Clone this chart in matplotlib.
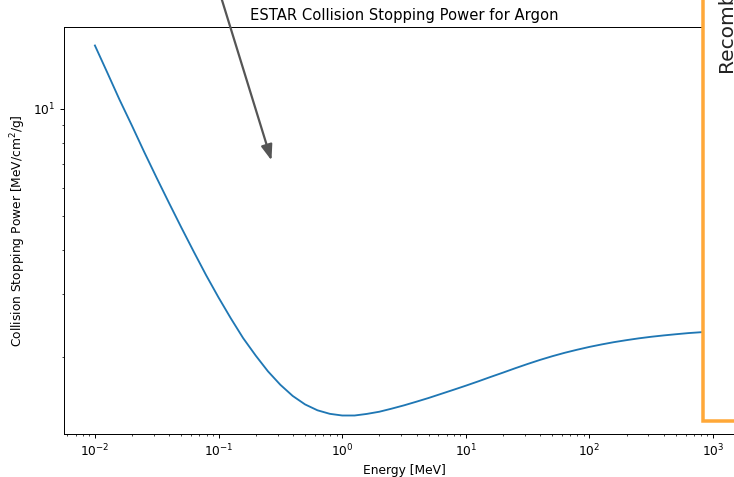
import matplotlib
matplotlib.use("Agg")
import matplotlib.pyplot as plt
from matplotlib.patches import Rectangle

# ESTAR collision stopping power of argon (MeV cm^2/g)
energy_mev = [0.01, 0.0126, 0.0158, 0.02, 0.0251, 0.0316, 0.0398, 0.0501, 0.0631, 0.0794,
              0.1, 0.126, 0.158, 0.2, 0.251, 0.316, 0.398, 0.501, 0.631, 0.794,
              1.0, 1.26, 1.58, 2.0, 2.51, 3.16, 3.98, 5.01, 6.31, 7.94,
              10.0, 12.6, 15.8, 20.0, 25.1, 31.6, 39.8, 50.1, 63.1, 79.4,
              100.0, 126.0, 158.0, 200.0, 251.0, 316.0, 398.0, 501.0, 631.0, 794.0,
              1000.0]
stopping_power = [15.10, 12.66, 10.63, 8.951, 7.551, 6.392, 5.429, 4.626, 3.956, 3.397,
                  2.941, 2.565, 2.260, 2.016, 1.821, 1.669, 1.552, 1.469, 1.414, 1.382,
                  1.367, 1.367, 1.381, 1.401, 1.429, 1.460, 1.495, 1.532, 1.573, 1.615,
                  1.659, 1.706, 1.755, 1.806, 1.858, 1.910, 1.961, 2.009, 2.054, 2.095,
                  2.134, 2.169, 2.201, 2.230, 2.256, 2.279, 2.299, 2.317, 2.334, 2.347,
                  2.359]

DPI = 88.5
W, H = 735, 477
fig = plt.figure(figsize=(W / DPI, H / DPI), dpi=DPI)
ax = fig.add_axes([64 / W, 43 / H, 680 / W, 407 / H])

ax.plot(energy_mev, stopping_power, color="#1f77b4", lw=1.5)
ax.set_xscale("log")
ax.set_yscale("log")
ax.set_xlabel("Energy [MeV]")
ax.set_ylabel("Collision Stopping Power [MeV/cm$^2$/g]")
ax.set_title("ESTAR Collision Stopping Power for Argon")

# pointer arrow coming in from above
ax.annotate("", xy=(0.268, 7.16), xycoords="data",
            xytext=(209.6, H + 40), textcoords="figure pixels",
            annotation_clip=False,
            arrowprops=dict(arrowstyle="-|>,head_length=0.66,head_width=0.24",
                            color="#555555", lw=1.8, mutation_scale=16,
                            shrinkA=0, shrinkB=0))

# highlighted panel on the right, drawn over the plot
box = Rectangle((703, H - 421), 200, 600, transform=None,
                facecolor="white", edgecolor="#ffa838", lw=2.85, zorder=10,
                clip_on=False)
fig.add_artist(box)
fig.text(727 / W, (H - 72) / H, "Recombination", rotation=90,
         ha="center", va="bottom", fontsize=16.4, color="#222222", zorder=11)

fig.savefig("out.png", dpi=DPI)
